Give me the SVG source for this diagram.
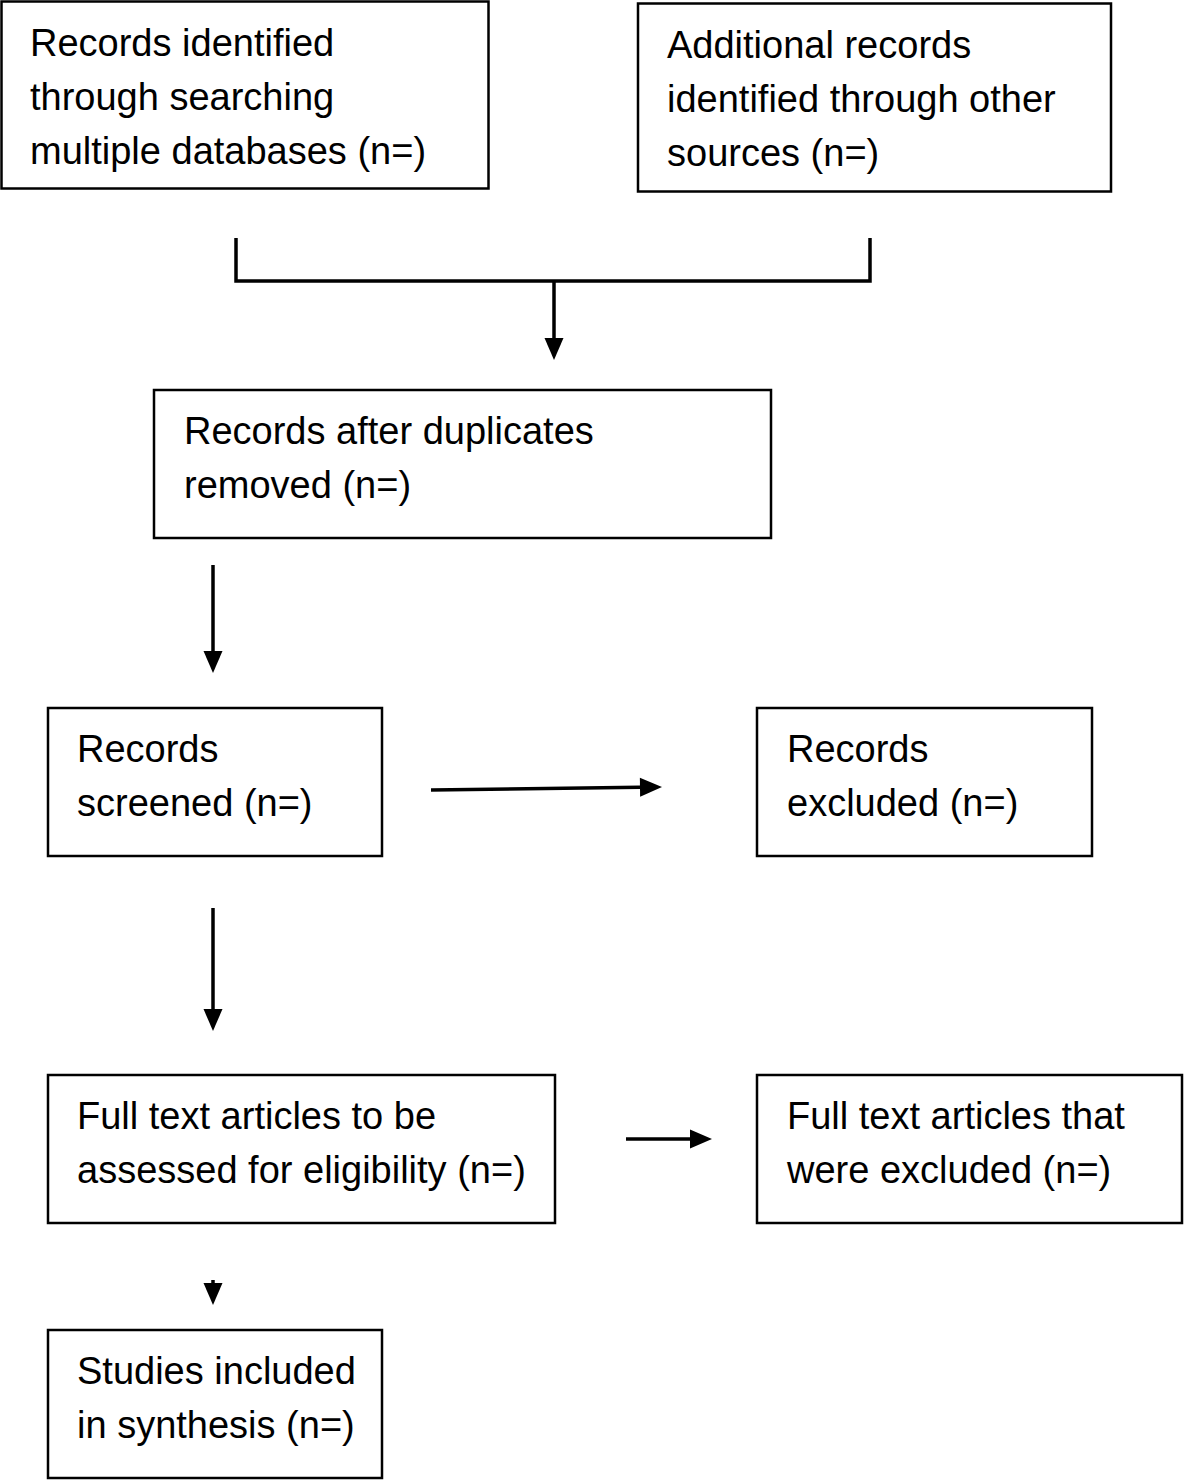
<svg xmlns="http://www.w3.org/2000/svg" width="1184" height="1481" viewBox="0 0 1184 1481">
<style>
.box{fill:#fff;stroke:#000;stroke-width:2.5}
.t{font-family:"Liberation Sans",Arial,sans-serif;font-size:38px;fill:#000}
.c{stroke:#000;stroke-width:3.5;fill:none}
</style>
<defs>
<marker id="ah" markerUnits="userSpaceOnUse" markerWidth="23" markerHeight="19" refX="0" refY="9.5" orient="auto" overflow="visible"><path d="M0,0 L22,9.5 L0,19 Z" fill="#000"/></marker>
</defs>
<rect width="1184" height="1481" fill="#fff"/>
<g id="n1"><rect class="box" x="1.5" y="1.5" width="487" height="187"/>
<text class="t" x="30" y="56">Records identified</text>
<text class="t" x="30" y="110">through searching</text>
<text class="t" x="30" y="164">multiple databases (n=)</text></g>
<g id="n2"><rect class="box" x="638" y="3.5" width="473" height="188"/>
<text class="t" x="667" y="58">Additional records</text>
<text class="t" x="667" y="112">identified through other</text>
<text class="t" x="667" y="166">sources (n=)</text></g>
<g id="n3"><rect class="box" x="154" y="390" width="617" height="148"/>
<text class="t" x="184" y="444">Records after duplicates</text>
<text class="t" x="184" y="498">removed (n=)</text></g>
<g id="n4"><rect class="box" x="48" y="708" width="334" height="148"/>
<text class="t" x="77" y="762">Records</text>
<text class="t" x="77" y="816">screened (n=)</text></g>
<g id="n5"><rect class="box" x="757" y="708" width="335" height="148"/>
<text class="t" x="787" y="762">Records</text>
<text class="t" x="787" y="816">excluded (n=)</text></g>
<g id="n6"><rect class="box" x="48" y="1075" width="507" height="148"/>
<text class="t" x="77" y="1129">Full text articles to be</text>
<text class="t" x="77" y="1183">assessed for eligibility (n=)</text></g>
<g id="n7"><rect class="box" x="757" y="1075" width="425" height="148"/>
<text class="t" x="787" y="1129">Full text articles that</text>
<text class="t" x="787" y="1183">were excluded (n=)</text></g>
<g id="n8"><rect class="box" x="48" y="1330" width="334" height="148"/>
<text class="t" x="77" y="1384">Studies included</text>
<text class="t" x="77" y="1438">in synthesis (n=)</text></g>
<g id="connectors">
<path class="c" d="M236,238 V281 H870 V238"/>
<path class="c" d="M554,281 V338" marker-end="url(#ah)"/>
<path class="c" d="M213,565 V651" marker-end="url(#ah)"/>
<path class="c" d="M431,790 L640,787.3" marker-end="url(#ah)"/>
<path class="c" d="M213,908 V1009" marker-end="url(#ah)"/>
<path class="c" d="M626,1139 H690" marker-end="url(#ah)"/>
<path class="c" d="M213,1280 V1283" marker-end="url(#ah)"/>
</g>
</svg>
